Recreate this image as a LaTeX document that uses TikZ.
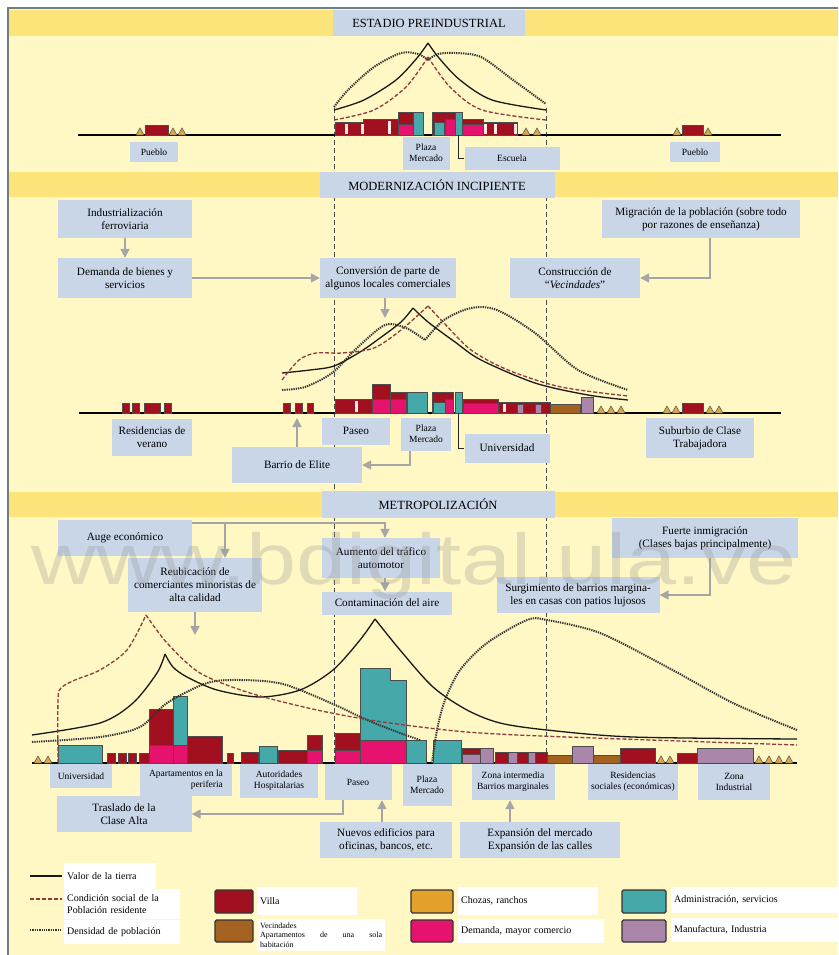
\documentclass[tikz,border=0pt]{standalone}
\usepackage{fontspec}
\setmainfont{Liberation Serif}
\newfontfamily\wmfont{Liberation Sans}
\usetikzlibrary{arrows.meta}

\definecolor{bgyel}{HTML}{FFF7C4}
\definecolor{band}{HTML}{FCE47A}
\definecolor{lblue}{HTML}{C8D6E8}
\definecolor{cvilla}{HTML}{A0101E}
\definecolor{cvecin}{HTML}{A3621F}
\definecolor{cchoza}{HTML}{E3A02A}
\definecolor{cdem}{HTML}{E5136D}
\definecolor{cadm}{HTML}{45A9AA}
\definecolor{cmanu}{HTML}{A986AA}
\definecolor{ctri}{HTML}{D9A84A}
\definecolor{arrowgray}{HTML}{A5A5A5}
\definecolor{socialred}{HTML}{8E3B3B}
\definecolor{framegray}{HTML}{6E7F80}

\tikzset{
  lbl/.style={fill=lblue, inner sep=1.5pt, align=center, font=\fontsize{11.2}{13}\selectfont},
  small/.style={font=\fontsize{9.5}{11}\selectfont},
  titlebox/.style={fill=lblue, font=\fontsize{12.5}{14}\selectfont},
  conn/.style={draw=arrowgray, line width=1.6pt, -{Triangle[length=9pt,width=9pt]}},
  link/.style={draw=black!85, line width=0.8pt},
  ground/.style={black, line width=1.2pt},
  limit/.style={black!70, line width=0.9pt, dash pattern=on 5pt off 3pt},
  tierra/.style={black!90, line width=1.3pt},
  social/.style={socialred, line width=1.3pt, dash pattern=on 4pt off 2pt},
  densidad/.style={black!80, line width=2pt, dash pattern=on 1.3pt off 1pt},
  villa/.style={fill=cvilla, draw=black!70, line width=0.5pt},
  vecin/.style={fill=cvecin, draw=black!70, line width=0.5pt},
  dem/.style={fill=cdem, draw=black!70, line width=0.5pt},
  adm/.style={fill=cadm, draw=black!70, line width=0.5pt},
  manu/.style={fill=cmanu, draw=black!70, line width=0.5pt},
  tri/.style={fill=ctri, draw=black!70, line width=0.5pt},
  stripe/.style={fill=pink!35!white},
  frame/.style={draw=framegray, line width=1.5pt},
  legbox/.style={fill=white, inner sep=3pt, anchor=west, align=left, font=\fontsize{10}{11.5}\selectfont},
  swatch/.style={draw=black!80, line width=1.3pt, rounded corners=1.5pt},
  wmark/.style={text=black!40, text opacity=0.3, font=\wmfont\fontsize{72}{72}\selectfont}
}

\newcommand\rancho[2]{\draw[tri] (#1,#2) -- ++(4,-7) -- ++(4,7) -- cycle;}

\begin{document}
\begin{tikzpicture}[x=1pt,y=-1pt]
\useasboundingbox (0,0) rectangle (838,955);
	% background
	\fill[white] (0,0) rectangle (838,955);
	\fill[bgyel] (8,8) rectangle (838,955);
	\fill[band] (9,10) rectangle (838,36);
	\fill[band] (9,172) rectangle (838,197);
	\fill[band] (9,492) rectangle (838,517);
	\draw[frame] (8,955) -- (8,8) -- (838,8);

	% limits of the old centre
	\draw[limit] (334,108) -- (334,763);
	\draw[limit] (546,108) -- (546,763);

		%ESTADIO PREINDUSTRIAL
		%-
	\draw[ground] (78,135) -- (781,135);
	\draw[villa] (145,125) rectangle (168,135);
	\foreach \x in {136,169,178} \rancho{\x}{135};
	\draw[villa] (682,125) rectangle (703,135);
	\foreach \x in {673,704} \rancho{\x}{135};

	\draw[villa] (335,122) rectangle (363,135);
	\draw[villa] (363,119) rectangle (398,135);
	\draw[villa] (398,112) rectangle (413,135);
	\draw[dem] (398,124) rectangle (413,135);
	\draw[adm] (413,112) rectangle (423,135);
	\draw[villa] (432,112) rectangle (455,135);
	\draw[adm] (434,122) rectangle (444,135);
	\draw[dem] (445,119) rectangle (455,135);
	\draw[adm] (455,112) rectangle (462,135);
	\draw[villa] (462,119) rectangle (483,135);
	\draw[dem] (462,124) rectangle (483,135);
	\draw[villa] (483,122) rectangle (517,135);
	\foreach \x/\t in {345/124,361/124,388/121,484/124,494/124,514/124}
		\fill[stripe] (\x,\t) rectangle (\x+2.5,134.4);
	\foreach \x in {522,533} \rancho{\x}{135};

	% curves
	\draw[densidad] plot[smooth] coordinates {(334,107) (348,90) (374,67) (401,53) (418,54) (428,60)};
	\draw[densidad] plot[smooth] coordinates {(428,60) (438,54) (455,53) (481,57) (513,80) (546,104)};
	\draw[tierra] plot[smooth] coordinates {(334,110) (364,100) (396,80) (417,58) (428,43)};
	\draw[tierra] plot[smooth] coordinates {(428,43) (439,58) (460,80) (492,100) (546,110)};
	\draw[social] plot[smooth] coordinates {(334,120) (374,110) (406,87) (428,57)};
	\draw[social] plot[smooth] coordinates {(428,57) (450,87) (482,110) (546,120)};

	% label
	\node[titlebox, minimum width=192, minimum height=26] (t1) at (429,23) {ESTADIO PREINDUSTRIAL};
	\node[lbl, small, minimum width=48, minimum height=20] (pueblo1) at (154,152) {Pueblo};
	\node[lbl, small, minimum width=47, minimum height=33] (plaza1) at (426,153) {Plaza\\Mercado};
	\node[lbl, small, minimum width=95, minimum height=23] (escuela) at (512,158) {Escuela};
	\node[lbl, small, minimum width=50, minimum height=20] (pueblo2) at (695,152) {Pueblo};
	\coordinate (escfoot) at (458,135);
	\draw[link] (escfoot) |- (escuela.west);

		%MODERNIZACION INCIPIENTE
		%-
	\draw[ground] (79,413) -- (781,413);
	\foreach \a/\b in {122/129,132/139,144/160,164/171,283/290,295/302,307/313}
		\draw[villa] (\a,403) rectangle (\b,413);
	\draw[villa] (682,403) rectangle (703,413);
	\foreach \x in {663,672,706,715} \rancho{\x}{413};

	\draw[villa] (335,399) rectangle (372,413);
	\draw[villa] (372,384) rectangle (390,413);
	\draw[dem] (372,399) rectangle (390,413);
	\draw[villa] (390,392) rectangle (406,413);
	\draw[dem] (390,399) rectangle (406,413);
	\draw[adm] (407,392) rectangle (427,413);
	\draw[villa] (432,392) rectangle (453,413);
	\draw[adm] (433,402) rectangle (445,413);
	\draw[dem] (445,399) rectangle (453,413);
	\draw[adm] (455,392) rectangle (462,413);
	\draw[villa] (463,399) rectangle (498,413);
	\draw[dem] (463,403) rectangle (498,413);
	\draw[villa] (498,402) rectangle (550,413);
	\fill[stripe] (355,401) rectangle (357.5,412.4);
	\fill[stripe] (503,404) rectangle (505.5,412.4);
	\draw[manu] (517,404) rectangle (523,413);
	\draw[manu] (535,404) rectangle (541,413);
	\draw[vecin] (550,404) rectangle (580,413);
	\draw[manu] (581,397) rectangle (593,413);
	\foreach \x in {597,607,617} \rancho{\x}{413};

	% curves
	\draw[densidad] plot[smooth] coordinates {(282,390) (305,387) (332,373) (358,347) (385,325) (406,328) (425,340)};
	\draw[densidad] plot[smooth] coordinates {(425,340) (444,320) (471,308) (497,310) (535,333) (578,370) (628,390)};
	\draw[tierra] plot[smooth] coordinates {(282,373) (310,370) (334,366) (360,352) (380,338) (401,322) (413,308)};
	\draw[tierra] plot[smooth] coordinates {(413,308) (428,322) (455,342) (481,360) (535,383) (588,395) (628,400)};
	\draw[social] plot[smooth] coordinates {(282,380) (299,360) (316,353) (342,353) (374,348) (401,330) (428,306)};
	\draw[social] plot[smooth] coordinates {(428,306) (444,323) (471,350) (508,370) (561,387) (628,396)};

	% label
	\node[titlebox, minimum width=235, minimum height=26] (t2) at (437,185) {MODERNIZACIÓN INCIPIENTE};
	\node[lbl, minimum width=134, minimum height=38] (indus) at (125,219) {Industrialización\\ferroviaria};
	\node[lbl, minimum width=134, minimum height=40] (demanda) at (125,278) {Demanda de bienes y\\servicios};
	\node[lbl, minimum width=136, minimum height=40] (conversion) at (388,278) {Conversión de parte de\\algunos locales comerciales};
	\node[lbl, minimum width=130, minimum height=40] (vecind) at (575,278) {Construcción de\\“\textit{Vecindades}”};
	\node[lbl, minimum width=198, minimum height=38] (migra) at (701,219) {Migración de la población (sobre todo\\por razones de enseñanza)};
	\node[lbl, minimum width=80, minimum height=37] (resid) at (152,437) {Residencias de\\verano};
	\node[lbl, minimum width=68, minimum height=27] (paseo2) at (356,431) {Paseo};
	\node[lbl, small, minimum width=50, minimum height=33] (plaza2) at (426,434) {Plaza\\Mercado};
	\node[lbl, minimum width=85, minimum height=29] (univ2) at (507,448) {Universidad};
	\node[lbl, minimum width=108, minimum height=40] (suburbio) at (700,438) {Suburbio de Clase\\Trabajadora};
	\node[lbl, minimum width=130, minimum height=36] (elite) at (297,465) {Barrio de Elite};

	\coordinate (convtip) at (385,318);
	\coordinate (migout) at ([xshift=9]migra.south);
	\coordinate (elitetip) at (297,418);
	\coordinate (plazaout) at ([xshift=-16]plaza2.south);
	\coordinate (univfoot) at (458,413);
	\draw[conn] (indus) -- (demanda);
	\draw[conn] (demanda) -- (conversion);
	\draw[conn] (convtip |- conversion.south) -- (convtip);
	\draw[conn] (migout) |- (vecind.east);
	\draw[conn] (elite.north) -- (elitetip);
	\draw[conn] (plazaout) |- (elite.east);
	\draw[link] (univfoot) |- (univ2.west);

		%METROPOLIZACION
		%-
	\draw[ground] (32,763) -- (797,763);
	\foreach \x in {34,44,657,666,755,765,775,785} \rancho{\x}{763};
	\draw[adm] (58,745) rectangle (102,763);
	\foreach \a/\b in {107/115,118/126,128/136,139/149,227/233}
		\draw[villa] (\a,753) rectangle (\b,763);
	\draw[villa] (149,709) rectangle (173,763);
	\draw[dem] (149,745) rectangle (173,763);
	\draw[adm] (173,696) rectangle (187,745);
	\draw[dem] (173,745) rectangle (187,763);
	\draw[villa] (187,736) rectangle (222,763);
	\draw[villa] (241,752) rectangle (258,763);
	\draw[adm] (259,746) rectangle (277,763);
	\draw[villa] (278,750) rectangle (307,763);
	\draw[villa] (307,735) rectangle (322,763);
	\draw[dem] (307,750) rectangle (322,763);
	\draw[villa] (335,733) rectangle (360,763);
	\draw[dem] (335,750) rectangle (360,763);
	\draw[adm] (360,668) -- (390,668) -- (390,680) -- (406,680) -- (406,740) -- (360,740) -- cycle;
	\draw[dem] (360,740) rectangle (406,763);
	\draw[adm] (406,740) rectangle (426,763);
	\draw[adm] (433,740) rectangle (461,763);
	\draw[villa] (462,748) rectangle (480,763);
	\draw[manu] (462,754) rectangle (480,763);
	\draw[manu] (480,748) rectangle (493,763);
	\draw[villa] (495,752) rectangle (547,763);
	\draw[manu] (508,752) rectangle (517,763);
	\draw[manu] (528,752) rectangle (535,763);
	\draw[vecin] (547,755) rectangle (572,763);
	\draw[manu] (572,746) rectangle (593,763);
	\draw[vecin] (593,755) rectangle (620,763);
	\draw[villa] (620,748) rectangle (655,763);
	\draw[villa] (677,753) rectangle (697,763);
	\draw[manu] (697,748) rectangle (753,763);

	% curves
	\draw[densidad] plot[smooth] coordinates {(32,742) (100,737) (140,727) (167,703) (207,683) (240,680) (283,684) (333,704) (367,720) (400,733) (420,740)};
	\draw[densidad] plot[smooth] coordinates {(432,763) (437,730) (445,700) (460,670) (487,643) (527,620) (547,620) (600,633) (667,667) (733,703) (797,730)};
	\draw[tierra] plot[smooth] coordinates {(32,735) (100,723) (133,703) (157,673) (165,654)};
	\draw[tierra] plot[smooth] coordinates {(165,654) (173,667) (187,677) (217,690) (260,697) (300,690) (333,670) (360,640) (375,619)};
	\draw[tierra] plot[smooth] coordinates {(375,619) (400,650) (433,687) (467,710) (500,723) (547,730) (633,737) (797,739)};
	\draw[social] plot[smooth] coordinates {(58,763) (58,700) (61,688) (75,680) (100,670) (127,650) (146,615)};
	\draw[social] plot[smooth] coordinates {(146,615) (167,643) (200,673) (250,693) (317,710) (383,722) (467,732) (567,737) (797,745)};

	% label
	\node[titlebox, minimum width=233, minimum height=27] (t3) at (438,504) {METROPOLIZACIÓN};
	\node[lbl, minimum width=134, minimum height=36] (auge) at (125,538) {Auge económico};
	\node[lbl, minimum width=134, minimum height=54] (reubic) at (195,585) {Reubicación de\\comerciantes minoristas de\\alta calidad};
	\node[lbl, minimum width=118, minimum height=40] (aumento) at (381,558) {Aumento del tráfico\\automotor};
	\node[lbl, minimum width=130, minimum height=23] (contam) at (387,603) {Contaminación del aire};
	\node[lbl, minimum width=186, minimum height=40] (fuerte) at (705,538) {Fuerte inmigración\\(Clases bajas principalmente)};
	\node[lbl, minimum width=163, minimum height=36] (surgi) at (578,595) {Surgimiento de barrios margina-\\les en casas con patios lujosos};

	\node[lbl, small, minimum width=62, minimum height=24] (univ3) at (81,776) {Universidad};
	\node[lbl, small, align=right, minimum width=92, minimum height=32] (apart) at (186,780) {Apartamentos en la\\periferia};
	\node[lbl, small, minimum width=78, minimum height=34] (autor) at (279,781) {Autoridades\\Hospitalarias};
	\node[lbl, small, minimum width=67, minimum height=36] (paseo3) at (358,782) {Paseo};
	\node[lbl, small, minimum width=49, minimum height=42] (plaza3) at (427,785) {Plaza\\Mercado};
	\node[lbl, small, minimum width=83, minimum height=36] (zona) at (513,782) {Zona intermedia\\Barrios marginales};
	\node[lbl, small, minimum width=90, minimum height=36] (resid3) at (633,782) {Residencias\\sociales (económicas)};
	\node[lbl, small, minimum width=72, minimum height=36] (zonaind) at (734,782) {Zona\\Industrial};
	\node[lbl, minimum width=135, minimum height=36] (traslado) at (124,814) {Traslado de la\\Clase Alta};
	\node[lbl, minimum width=132, minimum height=36] (nuevos) at (386,840) {Nuevos edificios para\\oficinas, bancos, etc.};
	\node[lbl, minimum width=160, minimum height=36] (expan) at (540,840) {Expansión del mercado\\Expansión de las calles};

	\coordinate (augeout) at ([yshift=15]auge.east);
	\coordinate (aumin) at ([xshift=4]aumento.north);
	\coordinate (reubin) at ([xshift=30]reubic.north);
	\coordinate (reubtip) at (195,635);
	\coordinate (fuerout) at ([xshift=5]fuerte.south);
	\coordinate (paseout) at ([xshift=-15]paseo3.south);
	\coordinate (nuevout) at ([xshift=-4]nuevos.north);
	\coordinate (expout) at ([xshift=-30]expan.north);
	\draw[conn] (augeout) -| (aumin);
	\draw[conn] (reubin |- augeout) -- (reubin);
	\draw[conn] (aumin |- aumento.south) -- (aumin |- contam.north);
	\draw[conn] (reubic.south) -- (reubtip);
	\draw[conn] (fuerout) |- (surgi.east);
	\draw[conn] (paseout) |- (traslado.east);
	\draw[conn] (nuevout) -- (nuevout |- paseo3.south);
	\draw[conn] (expout) -- (expout |- zona.south);

		% legend
	\draw[tierra] (30,876) -- (62,876);
	\draw[social] (30,899) -- (62,899);
	\draw[densidad] (30,930) -- (62,930);
	\node[legbox, text width=86, minimum height=27] (lgtierra) at (64,876) {Valor de la tierra};
	\node[legbox, text width=110, minimum height=30] (lgsocial) at (64,904) {Condición social de la\\Población residente};
	\node[legbox, text width=110, minimum height=24] (lgdens) at (64,932) {Densidad de población};

	\draw[swatch, fill=cvilla] (215,890) rectangle (253,913);
	\draw[swatch, fill=cvecin] (215,920) rectangle (253,942);
	\draw[swatch, fill=cchoza] (411,890) rectangle (453,913);
	\draw[swatch, fill=cdem] (411,920) rectangle (453,942);
	\draw[swatch, fill=cadm] (622,890) rectangle (666,913);
	\draw[swatch, fill=cmanu] (622,920) rectangle (666,942);
	\node[legbox, text width=94, minimum height=28] (lgvilla) at (257,901) {Villa};
	\node[legbox, text width=122, minimum height=32, font=\fontsize{8}{9.5}\selectfont] (lgvecin) at (257,935) {Vecindades\\\makebox[122pt]{Apartamentos\hfill de\hfill una\hfill sola}\\habitación};
	\node[legbox, text width=134, minimum height=28] (lgchoza) at (458,901) {Chozas, ranchos};
	\node[legbox, text width=140, minimum height=24] (lgdem) at (458,931) {Demanda, mayor comercio};
	\node[legbox, text width=161, minimum height=26] (lgadm) at (671,900) {Administración, servicios};
	\node[legbox, text width=161, minimum height=24] (lgmanu) at (671,930) {Manufactura, Industria};

	% watermark
	\node[wmark] (wm) at (414,566) {\scalebox{1.25}[1]{www.bdigital.ula.ve}};
\end{tikzpicture}
\end{document}
